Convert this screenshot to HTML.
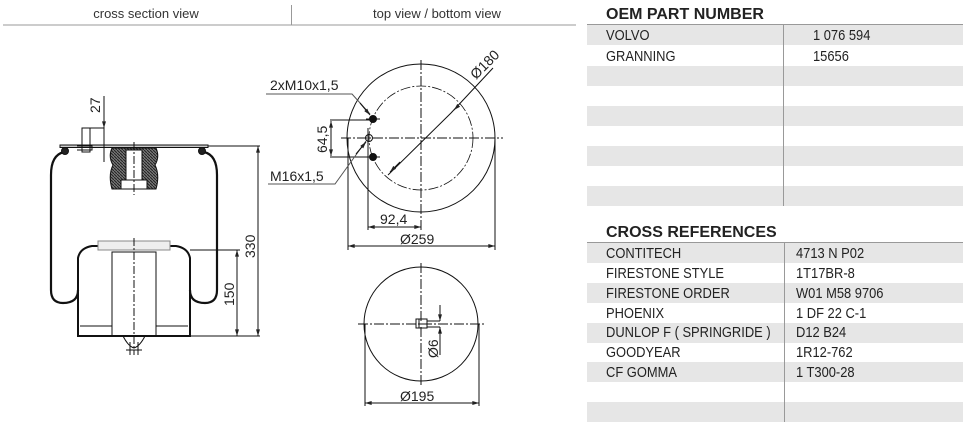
<!DOCTYPE html>
<html><head><style>
body{margin:0;background:#fff;width:963px;height:422px;overflow:hidden;position:relative;font-family:"Liberation Sans",sans-serif;}
svg{position:absolute;left:0;top:0}
.t{position:absolute;font-family:"Liberation Sans",sans-serif;font-size:15px;color:#222;white-space:nowrap;line-height:17px;transform:scaleX(.86);transform-origin:left top}
.h{position:absolute;font-weight:bold;font-size:16px;color:#222;white-space:nowrap}
.row{position:absolute;left:587px;width:376px;height:20px}
.g{background:#e6e6e6}
</style></head><body>
<svg width="963" height="422" font-family="Liberation Sans, sans-serif">
<defs>
<pattern id="hat" width="3" height="3" patternUnits="userSpaceOnUse"><rect width="3" height="3" fill="#777"/><path d="M0 0L3 3" stroke="#222" stroke-width="1"/></pattern>
<marker id="a" viewBox="0 0 10 6" refX="10" refY="3" markerWidth="8" markerHeight="4" orient="auto-start-reverse"><path d="M0 0L10 3L0 6z" fill="#222"/></marker>
</defs>
<text x="146" y="18" font-size="13" fill="#333" text-anchor="middle">cross section view</text>
<text x="437" y="18" font-size="13" fill="#333" text-anchor="middle">top view / bottom view</text>
<line x1="3" y1="25" x2="576" y2="25" stroke="#999" stroke-width="1"/>
<line x1="291.5" y1="5" x2="291.5" y2="25" stroke="#999"/>
<g stroke="#111" fill="none" stroke-width="1">
<rect x="60" y="145" width="148" height="2.5" fill="#ccc"/>
<path d="M64 152 Q51 155 51 175 L51 290 Q51 303 63 303 Q78 303 78 290" stroke-width="2.2"/>
<path d="M204 152 Q217 155 217 175 L217 290 Q217 303 205 303 Q190 303 190 290" stroke-width="2.2"/>
<circle cx="65" cy="151" r="3.5" fill="#222"/><circle cx="202" cy="151" r="3.5" fill="#222"/>
<path d="M112 148 L156 148 Q160 157 155 165 Q160 175 156 189 L112 189 Q108 175 113 165 Q108 157 112 148z" fill="url(#hat)"/>
<rect x="126" y="150" width="16" height="38" fill="#fff"/>
<rect x="121" y="180" width="26" height="9" fill="#fff"/>
<path d="M78 336 L78 258 Q80 248 92 246 L176 246 Q188 248 190 258 L190 336 Z" stroke-width="2"/>
<rect x="98" y="241" width="72" height="9" fill="#eee" stroke="#888"/>
<rect x="112" y="252" width="44" height="84"/>
<line x1="80" y1="326" x2="112" y2="326"/><line x1="156" y1="326" x2="188" y2="326"/>
<path d="M123 336 Q128 346 134 348 Q140 346 145 336"/>
<path d="M130 342 V355 M138 342 V355 M126 350 H142"/>
<path d="M82 128 H90 V152 H82 Z"/><path d="M77 146 H92 V150 H77"/>
<line x1="134" y1="142" x2="134" y2="195" stroke-dasharray="8 2 2 2"/>
<line x1="134" y1="238" x2="134" y2="355" stroke-dasharray="8 2 2 2"/>
<line x1="208" y1="146" x2="260" y2="146"/><line x1="190" y1="336" x2="260" y2="336"/>
<line x1="190" y1="250" x2="240" y2="250"/>
<line x1="258" y1="146" x2="258" y2="336" marker-start="url(#a)" marker-end="url(#a)"/>
<line x1="237" y1="250" x2="237" y2="336" marker-start="url(#a)" marker-end="url(#a)"/>
<path d="M90 128 H104 M104 96 V162"/>
<line x1="104" y1="110" x2="104" y2="128" marker-end="url(#a)"/>
<circle cx="421" cy="138" r="74"/>
<circle cx="421" cy="138" r="52" stroke-dasharray="10 2 2 2" stroke-width=".8"/>
<line x1="341" y1="138" x2="503" y2="138" stroke-dasharray="10 2 2 2"/>
<line x1="421" y1="60" x2="421" y2="230" stroke-dasharray="10 2 2 2"/>
<circle cx="373" cy="119" r="3.5" fill="#111"/><circle cx="373" cy="157" r="3.5" fill="#111"/>
<line x1="366" y1="119" x2="380" y2="119"/><line x1="366" y1="157" x2="380" y2="157"/>
<circle cx="369" cy="138" r="3.5"/>
<line x1="368" y1="128" x2="368" y2="230"/>
<line x1="348" y1="138" x2="348" y2="250"/><line x1="495" y1="138" x2="495" y2="250"/>
<line x1="368" y1="227" x2="421" y2="227" marker-start="url(#a)" marker-end="url(#a)"/>
<line x1="348" y1="246" x2="495" y2="246" marker-start="url(#a)" marker-end="url(#a)"/>
<line x1="330" y1="120" x2="373" y2="120"/><line x1="330" y1="157" x2="373" y2="157"/>
<line x1="331" y1="121" x2="331" y2="156" marker-start="url(#a)" marker-end="url(#a)"/>
<path d="M388 175 L451 113 L493 68"/>
<line x1="455" y1="109" x2="454" y2="110" marker-end="url(#a)"/>
<line x1="400" y1="162" x2="390" y2="172" marker-end="url(#a)"/>
<path d="M266 94 H352 L370 114" stroke="#555"/>
<line x1="360" y1="103" x2="370" y2="115" marker-end="url(#a)"/>
<path d="M268 184 H335 L366 141" stroke="#555"/>
<line x1="356" y1="154" x2="366" y2="142" marker-end="url(#a)"/>
<circle cx="421" cy="324" r="57"/>
<line x1="358" y1="324" x2="486" y2="324" stroke-dasharray="10 2 2 2"/>
<line x1="421" y1="263" x2="421" y2="385" stroke-dasharray="10 2 2 2"/>
<rect x="416" y="319" width="11" height="9"/><line x1="419" y1="319" x2="419" y2="328"/>
<line x1="427" y1="321" x2="440" y2="321"/><line x1="427" y1="327" x2="440" y2="327"/>
<line x1="440" y1="305" x2="440" y2="321" marker-end="url(#a)"/>
<line x1="440" y1="345" x2="440" y2="327" marker-end="url(#a)"/>
<line x1="440" y1="327" x2="440" y2="355"/>
<line x1="365" y1="324" x2="365" y2="406"/><line x1="479" y1="324" x2="479" y2="406"/>
<line x1="365" y1="403" x2="479" y2="403" marker-start="url(#a)" marker-end="url(#a)"/>
</g>
<g font-size="14" fill="#222">
<text transform="translate(100 113) rotate(-90)">27</text>
<text transform="translate(255 258) rotate(-90)">330</text>
<text transform="translate(234 306) rotate(-90)">150</text>
<text transform="translate(327 153) rotate(-90)">64,5</text>
<text transform="translate(476 80) rotate(-45)">Ø180</text>
<text transform="translate(438 358) rotate(-90)">Ø6</text>
<text x="270" y="90">2xM10x1,5</text>
<text x="270" y="181">M16x1,5</text>
<text x="380" y="224">92,4</text>
<text x="400" y="244">Ø259</text>
<text x="400" y="401">Ø195</text>
</g>
</svg>
<div class="h" style="left:606px;top:6px">OEM PART NUMBER</div>
<div style="position:absolute;left:587px;top:24px;width:376px;height:1px;background:#999"></div>
<div class="row g" style="top:25px"></div>
<div class="row g" style="top:66px"></div>
<div class="row g" style="top:106px"></div>
<div class="row g" style="top:146px"></div>
<div class="row g" style="top:186px"></div>
<div style="position:absolute;left:783px;top:25px;width:1px;height:181px;background:#999"></div>
<div class="t" style="left:606px;top:27px">VOLVO</div><div class="t" style="left:813px;top:27px">1 076 594</div>
<div class="t" style="left:606px;top:48px">GRANNING</div><div class="t" style="left:813px;top:48px">15656</div>
<div class="h" style="left:606px;top:224px">CROSS REFERENCES</div>
<div style="position:absolute;left:587px;top:242px;width:376px;height:1px;background:#999"></div>
<div class="row g" style="top:243px"></div>
<div class="row g" style="top:283px"></div>
<div class="row g" style="top:323px"></div>
<div class="row g" style="top:362px"></div>
<div class="row g" style="top:402px"></div>
<div style="position:absolute;left:784px;top:243px;width:1px;height:179px;background:#999"></div>
<div class="t" style="left:606px;top:245px">CONTITECH</div><div class="t" style="left:796px;top:245px">4713 N P02</div>
<div class="t" style="left:606px;top:265px">FIRESTONE STYLE</div><div class="t" style="left:796px;top:265px">1T17BR-8</div>
<div class="t" style="left:606px;top:285px">FIRESTONE ORDER</div><div class="t" style="left:796px;top:285px">W01 M58 9706</div>
<div class="t" style="left:606px;top:305px">PHOENIX</div><div class="t" style="left:796px;top:305px">1 DF 22 C-1</div>
<div class="t" style="left:606px;top:324px">DUNLOP F ( SPRINGRIDE )</div><div class="t" style="left:796px;top:324px">D12 B24</div>
<div class="t" style="left:606px;top:344px">GOODYEAR</div><div class="t" style="left:796px;top:344px">1R12-762</div>
<div class="t" style="left:606px;top:364px">CF GOMMA</div><div class="t" style="left:796px;top:364px">1 T300-28</div>
</body></html>
